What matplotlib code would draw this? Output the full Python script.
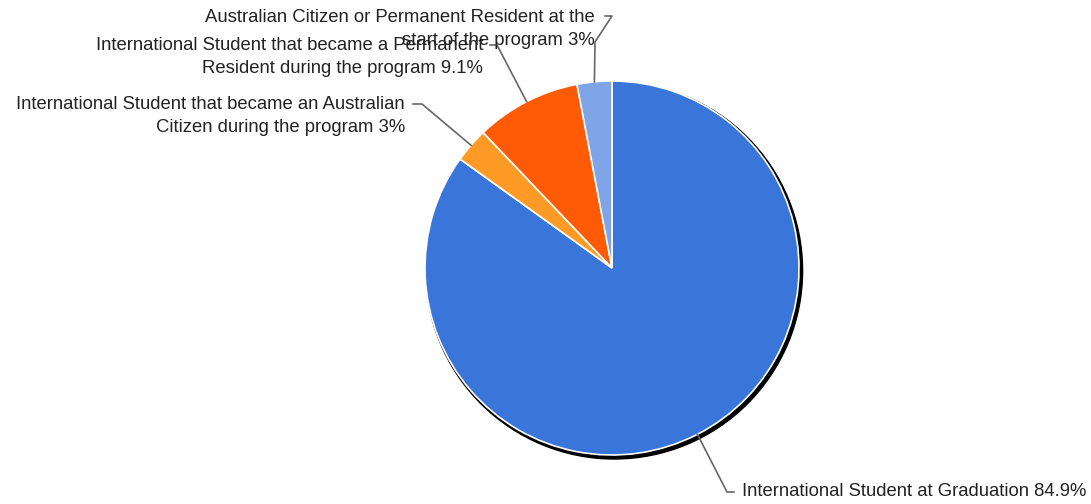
import numpy as np
import matplotlib
matplotlib.use("Agg")
import matplotlib.pyplot as plt
from matplotlib.patches import Circle

labels = [
    "International Student at Graduation",
    "International Student that became an Australian\nCitizen during the program",
    "International Student that became a Permanent\nResident during the program",
    "Australian Citizen or Permanent Resident at the\nstart of the program",
]
values = [84.9, 3, 9.1, 3]
pct_text = ["84.9%", "3%", "9.1%", "3%"]
colors = ["#3a76d9", "#ff9a26", "#ff5a05", "#7fa4e8"]

W, H = 1091, 504
CX, CY, R = 612, 268, 187

# label layout in pixel coords: text x, text y, ha, leader path after the wedge anchor
layout = [
    (742, 492, "left", [(727, 492), (734, 492)]),
    (405, 116, "right", [(422, 104), (413, 104)]),
    (483, 57, "right", [(497, 45), (490, 45)]),
    (595, 29, "right", [(595, 42), (612, 16), (605, 16)]),
]


def py(y):
    return H - y


fig = plt.figure(figsize=(W / 100, H / 100), dpi=100)
ax = fig.add_axes([0, 0, 1, 1])

ax.add_patch(Circle((CX + 2.2, py(CY) - 2.6), R + 1.4, color="black", zorder=1))
wedges, _ = ax.pie(values, colors=colors, startangle=90, counterclock=False,
                   center=(CX, py(CY)), radius=R, frame=True,
                   wedgeprops=dict(edgecolor="white", linewidth=1.2, zorder=2))
ax.set_xlim(0, W)
ax.set_ylim(0, H)
ax.set_aspect("equal")
ax.axis("off")

for w, lab, pct, (tx, ty, ha, path) in zip(wedges, labels, pct_text, layout):
    mid = np.deg2rad((w.theta1 + w.theta2) / 2)
    xs = [CX + R * np.cos(mid)] + [p[0] for p in path]
    ys = [py(CY) + R * np.sin(mid)] + [py(p[1]) for p in path]
    ax.plot(xs, ys, color="#666666", lw=1.2, zorder=3)
    ax.text(tx, py(ty), f"{lab} {pct}", ha=ha, va="center", fontsize=13.3,
            color="#222222", linespacing=1.5, family=["Liberation Sans", "DejaVu Sans"],
            zorder=4)

fig.savefig("out.png", dpi=100, facecolor="white")
